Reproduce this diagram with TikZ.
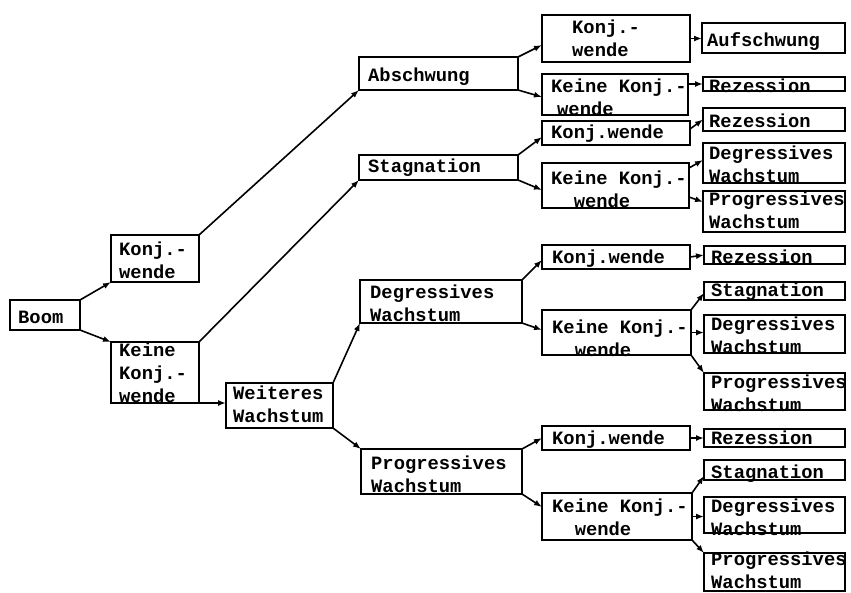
\documentclass[tikz,border=0pt]{standalone}
\usepackage{fontspec}
\newfontfamily\twfont{Liberation Mono}
\usetikzlibrary{arrows.meta}
\newcommand\mybx[5]{\node[bx, minimum width={#4-#2}, minimum height={#5-#3}] (#1) at ({(#2+#4)/2},{(#3+#5)/2}) {};}
\newcommand\mytx[4]{\node[tx] (#1) at (#2,#3) {\begin{tabular}[t]{@{}l@{}}#4\end{tabular}};}
\begin{document}
\begin{tikzpicture}[x=1pt,y=-1pt,
  bx/.style={draw, line width=1.7pt, inner sep=0pt, outer sep=0pt},
  tx/.style={anchor=base west, inner sep=0pt, font=\twfont\bfseries\fontsize{18.8}{23}\selectfont},
  conn/.style={line width=1.6pt, -{Latex[length=8pt,width=6pt]}}]
\useasboundingbox (0,0) rectangle (851,592);
% boxes
\mybx{boom}{10}{300}{80}{330}
\mybx{k1}{111}{235}{199}{282}
\mybx{nk1}{111}{342}{199}{403}
\mybx{weit}{226}{383}{333}{428}
\mybx{absch}{359}{57}{518}{90}
\mybx{stag}{359}{155}{518}{180}
\mybx{deg2}{360}{280}{522}{323}
\mybx{prog2}{361}{449}{522}{494}
\mybx{k3a}{542}{15}{690}{62}
\mybx{nk3a}{542}{74}{688}{115}
\mybx{aufs}{702}{23}{845}{53}
\mybx{rez1}{703}{77}{845}{91}
\mybx{k3b}{542}{121}{690}{145}
\mybx{rez2}{703}{108}{845}{131}
\mybx{nk3b}{542}{163}{689}{208}
\mybx{deg3b}{703}{143}{845}{183}
\mybx{prog3b}{703}{191}{845}{232}
\mybx{k3c}{542}{245}{690}{269}
\mybx{rez3}{704}{246}{845}{264}
\mybx{stag3c}{704}{282}{845}{300}
\mybx{nk3c}{542}{310}{691}{355}
\mybx{deg3c}{704}{315}{845}{353}
\mybx{prog3c}{704}{373}{845}{410}
\mybx{k3d}{542}{426}{690}{450}
\mybx{rez4}{704}{429}{845}{447}
\mybx{stag3d}{704}{460}{845}{480}
\mybx{nk3d}{542}{493}{692}{540}
\mybx{deg3d}{704}{497}{845}{533}
\mybx{prog3d}{704}{553}{845}{591}
% texts
\mytx{boomt}{18}{323}{Boom}
\mytx{k1t}{119}{255}{Konj.-\\wende}
\mytx{nk1t}{119}{356}{Keine\\Konj.-\\wende}
\mytx{weitt}{233}{399}{Weiteres\\Wachstum}
\mytx{abscht}{368}{81}{Abschwung}
\mytx{stagt}{368}{172}{Stagnation}
\mytx{deg2t}{370}{298}{Degressives\\Wachstum}
\mytx{prog2t}{371}{469}{Progressives\\Wachstum}
\mytx{k3at}{572}{33}{Konj.-\\wende}
\mytx{nk3at}{551}{92}{Keine Konj.-\\\hspace{6pt}wende}
\mytx{aufst}{707}{46}{Aufschwung}
\mytx{rez1t}{709}{92}{Rezession}
\mytx{k3bt}{551}{138}{Konj.wende}
\mytx{rez2t}{709}{127}{Rezession}
\mytx{nk3bt}{551}{184}{Keine Konj.-\\~~wende}
\mytx{deg3bt}{709}{159}{Degressives\\Wachstum}
\mytx{prog3bt}{709}{205}{Progressives\\Wachstum}
\mytx{k3ct}{552}{263}{Konj.wende}
\mytx{rez3t}{711}{263}{Rezession}
\mytx{stag3ct}{711}{296}{Stagnation}
\mytx{nk3ct}{552}{333}{Keine Konj.-\\~~wende}
\mytx{deg3ct}{711}{330}{Degressives\\Wachstum}
\mytx{prog3ct}{711}{388}{Progressives\\Wachstum}
\mytx{k3dt}{552}{444}{Konj.wende}
\mytx{rez4t}{711}{444}{Rezession}
\mytx{stag3dt}{711}{478}{Stagnation}
\mytx{nk3dt}{552}{512}{Keine Konj.-\\~~wende}
\mytx{deg3dt}{711}{512}{Degressives\\Wachstum}
\mytx{prog3dt}{711}{565}{Progressives\\Wachstum}
% connectors
\draw[conn] (boom.north east) -- (k1.south west);
\draw[conn] (boom.south east) -- (nk1.north west);
\draw[conn] (nk1.south east) -- (nk1.south east -| weit.west);
\draw[conn] (k1.north east) -- (absch.south west);
\draw[conn] (nk1.north east) -- (stag.south west);
\draw[conn] (weit.north east) -- (deg2.south west);
\draw[conn] (weit.south east) -- (prog2.north west);
\draw[conn] (absch.north east) -- ([yshift=-6.5pt]k3a.west);
\draw[conn] (absch.south east) -- ([yshift=-2.5pt]nk3a.west);
\draw[conn] (k3a.east) -- (k3a.east -| aufs.west);
\draw[conn] (rez1.west -| nk3a.east) -- (rez1.west);
\draw[conn] (stag.north east) -- ([yshift=-4pt]k3b.west);
\draw[conn] (stag.south east) -- ([yshift=-4.5pt]nk3b.west);
\draw[conn] ([yshift=4pt]k3b.east) -- (rez2.west);
\draw[conn] ([yshift=-5pt]nk3b.north east) -- ([yshift=3pt]deg3b.west);
\draw[conn] ([yshift=-11.5pt]nk3b.east) -- ([yshift=9.5pt]prog3b.west);
\draw[conn] (deg2.north east) -- ([yshift=-3pt]k3c.west);
\draw[conn] (deg2.south east) -- ([yshift=2.5pt]nk3c.west);
\draw[conn] (k3c.east) -- (rez3.west);
\draw[conn] (nk3c.north east) -- ([yshift=-2pt]stag3c.west);
\draw[conn] (nk3c.east) -- (nk3c.east -| deg3c.west);
\draw[conn] (nk3c.south east) -- (prog3c.north west);
\draw[conn] (prog2.north east) -- (k3d.west);
\draw[conn] (prog2.south east) -- ([yshift=9.5pt]nk3d.west);
\draw[conn] (k3d.east) -- (rez4.west);
\draw[conn] (nk3d.north east) -- ([yshift=-6pt]stag3d.west);
\draw[conn] (nk3d.east) -- (nk3d.east -| deg3d.west);
\draw[conn] (nk3d.south east) -- (prog3d.north west);
\end{tikzpicture}
\end{document}
